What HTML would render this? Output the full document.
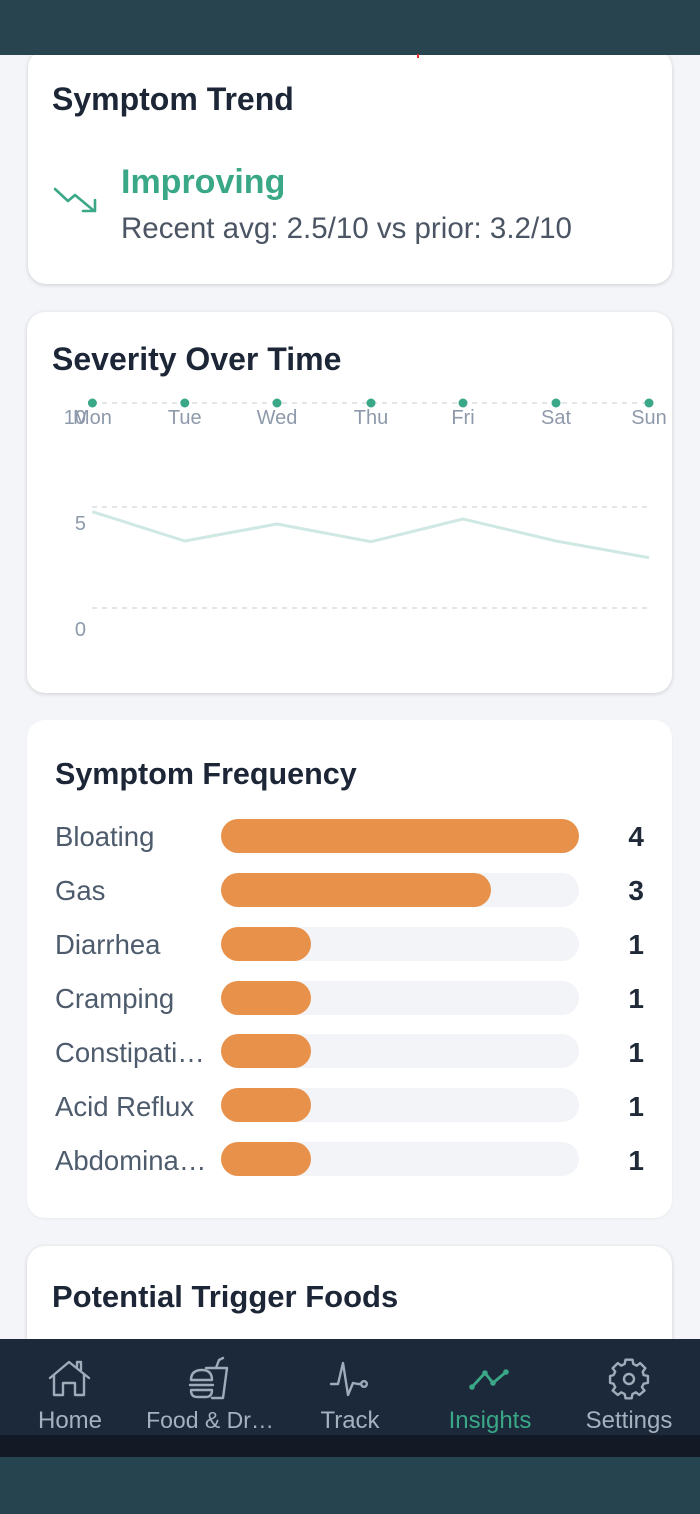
<!DOCTYPE html>
<html><head><meta charset="utf-8">
<style>
*{margin:0;padding:0;box-sizing:border-box}
html,body{width:700px;height:1514px;overflow:hidden;background:#f3f5f8;font-family:"Liberation Sans",Arial,sans-serif}
.abs{position:absolute;white-space:nowrap;line-height:1}
.card{position:absolute;background:#fff;border-radius:18px;box-shadow:0 1px 4px rgba(0,0,0,0.16)}
.title{color:#1c2636;font-weight:bold}
.lbl{font-size:27.5px;color:#4d5b6c}
.val{font-size:28px;color:#1f2937;font-weight:bold}
.track{position:absolute;left:221px;width:358px;height:34px;border-radius:17px;background:#f3f4f7}
.fill{position:absolute;left:0;top:0;height:34px;border-radius:17px;background:#e8914b}
.nl{position:absolute;top:1409px;font-size:24px;color:#a6b1bf;line-height:1;transform:translateX(-50%);white-space:nowrap}
</style></head><body>

<!-- top bar -->
<div style="position:absolute;left:0;top:0;width:700px;height:55px;background:#27444f;z-index:5"></div>
<div style="position:absolute;left:417px;top:54px;width:2px;height:4px;background:#e03030;z-index:6"></div>

<!-- Card 1 -->
<div class="card" style="left:28px;top:50px;width:644px;height:234px"></div>
<div class="abs title" style="left:52px;top:83px;font-size:32px">Symptom Trend</div>
<svg style="position:absolute;left:0;top:0" width="700" height="300">
  <polyline points="55,189 68,201 75,195 93,210" fill="none" stroke="#3aa886" stroke-width="2.6" stroke-linecap="round" stroke-linejoin="round"/>
  <polyline points="83,211 95,211 95,200" fill="none" stroke="#3aa886" stroke-width="2.6" stroke-linecap="round" stroke-linejoin="round"/>
</svg>
<div class="abs" style="left:121px;top:165px;font-size:34px;font-weight:bold;color:#3aa886">Improving</div>
<div class="abs" style="left:121px;top:214px;font-size:29.5px;color:#4b5563">Recent avg: 2.5/10 vs prior: 3.2/10</div>

<!-- Card 2 -->
<div class="card" style="left:27px;top:312px;width:645px;height:381px"></div>
<div class="abs title" style="left:52px;top:343px;font-size:32px">Severity Over Time</div>
<svg style="position:absolute;left:0;top:0" width="700" height="700" font-family="Liberation Sans, Arial, sans-serif">
  <g stroke="#d9dee4" stroke-width="1.5" stroke-dasharray="5 5">
    <line x1="92" y1="403" x2="649" y2="403"/>
    <line x1="92" y1="507" x2="649" y2="507"/>
    <line x1="92" y1="608" x2="649" y2="608"/>
  </g>
  <polyline points="92.4,511.7 184.8,541 277,524 371,541.7 463,519 556,541 649,557.7" fill="none" stroke="#cfe8e3" stroke-width="3" stroke-linejoin="round"/>
  <g fill="#8e9aab" font-size="20">
    <text x="86" y="424" text-anchor="end">10</text>
    <text x="86" y="530" text-anchor="end">5</text>
    <text x="86" y="636" text-anchor="end">0</text>
    <text x="92.4" y="424" text-anchor="middle">Mon</text>
    <text x="184.8" y="424" text-anchor="middle">Tue</text>
    <text x="277" y="424" text-anchor="middle">Wed</text>
    <text x="371" y="424" text-anchor="middle">Thu</text>
    <text x="463" y="424" text-anchor="middle">Fri</text>
    <text x="556" y="424" text-anchor="middle">Sat</text>
    <text x="649" y="424" text-anchor="middle">Sun</text>
  </g>
  <g fill="#3aa886">
    <circle cx="92.4" cy="403" r="4.5"/><circle cx="184.8" cy="403" r="4.5"/><circle cx="277" cy="403" r="4.5"/>
    <circle cx="371" cy="403" r="4.5"/><circle cx="463" cy="403" r="4.5"/><circle cx="556" cy="403" r="4.5"/>
    <circle cx="649" cy="403" r="4.5"/>
  </g>
</svg>

<!-- Card 3 -->
<div class="card" style="left:27px;top:720px;width:645px;height:498px;box-shadow:0 1px 2px rgba(0,0,0,0.05)"></div>
<div class="abs title" style="left:55px;top:759px;font-size:30.5px">Symptom Frequency</div>

<div class="abs lbl" style="left:55px;top:823px">Bloating</div>
<div class="track" style="top:819px"><div class="fill" style="width:358px"></div></div>
<div class="abs val" style="right:56px;top:823px">4</div>

<div class="abs lbl" style="left:55px;top:877px">Gas</div>
<div class="track" style="top:873px"><div class="fill" style="width:270px"></div></div>
<div class="abs val" style="right:56px;top:877px">3</div>

<div class="abs lbl" style="left:55px;top:931px">Diarrhea</div>
<div class="track" style="top:927px"><div class="fill" style="width:90px"></div></div>
<div class="abs val" style="right:56px;top:931px">1</div>

<div class="abs lbl" style="left:55px;top:985px">Cramping</div>
<div class="track" style="top:981px"><div class="fill" style="width:90px"></div></div>
<div class="abs val" style="right:56px;top:985px">1</div>

<div class="abs lbl" style="left:55px;top:1039px">Constipati…</div>
<div class="track" style="top:1034px"><div class="fill" style="width:90px"></div></div>
<div class="abs val" style="right:56px;top:1039px">1</div>

<div class="abs lbl" style="left:55px;top:1093px">Acid Reflux</div>
<div class="track" style="top:1088px"><div class="fill" style="width:90px"></div></div>
<div class="abs val" style="right:56px;top:1093px">1</div>

<div class="abs lbl" style="left:55px;top:1147px">Abdomina…</div>
<div class="track" style="top:1142px"><div class="fill" style="width:90px"></div></div>
<div class="abs val" style="right:56px;top:1147px">1</div>

<!-- Card 4 -->
<div class="card" style="left:27px;top:1246px;width:645px;height:200px"></div>
<div class="abs title" style="left:52px;top:1281px;font-size:31px">Potential Trigger Foods</div>

<!-- bottom nav -->
<div style="position:absolute;left:0;top:1339px;width:700px;height:96px;background:#1b293b;z-index:5"></div>
<div style="position:absolute;left:0;top:1435px;width:700px;height:22px;background:#131a25;z-index:5"></div>
<div style="position:absolute;left:0;top:1457px;width:700px;height:57px;background:#26444f;z-index:5"></div>
<svg style="position:absolute;left:0;top:1339px;z-index:6" width="700" height="96">
  <g transform="translate(0,-1339)" fill="none" stroke="#a0abba" stroke-width="2.4" stroke-linecap="round" stroke-linejoin="round">
    <!-- home -->
    <polyline points="50,1378 69,1362 89,1378"/>
    <polyline points="54,1375 54,1395 63,1395 63,1383 75,1383 75,1395 84,1395 84,1375"/>
    <polyline points="77,1367 77,1362 81,1362 81,1370"/>
    <!-- food -->
    <path d="M206,1368 L227,1368 L223,1398 L212,1398"/>
    <path d="M216,1368 L219,1360 L223,1358"/>
    <path d="M191,1380 Q191,1370 202,1370 Q212,1370 212,1380 Z"/>
    <path d="M190,1385 L213,1385"/>
    <path d="M191,1390 L212,1390 Q212,1397 206,1397 L197,1397 Q191,1397 191,1390 Z"/>
    <!-- track -->
    <polyline points="331,1384 338,1384 343,1363 348,1395 353,1383 358,1384 361,1384"/>
    <circle cx="364" cy="1384" r="2.8"/>
    <!-- settings gear -->
    <g transform="translate(629,1379) scale(0.86) translate(-629,-1384.5)">
      <path d="M625,1362 L633,1362 L634,1367 L638,1369 L642,1366 L648,1372 L645,1376 L646,1380 L651,1381 L651,1389 L646,1390 L644,1394 L647,1398 L641,1403 L637,1400 L633,1402 L632,1407 L625,1407 L624,1402 L620,1400 L616,1403 L610,1398 L613,1394 L611,1390 L607,1389 L607,1381 L611,1380 L613,1376 L610,1372 L616,1366 L620,1369 L624,1367 Z" stroke-width="2.8"/>
    </g>
    <circle cx="629" cy="1379" r="5"/>
  </g>
  <g transform="translate(0,-1339)" fill="#3aa886" stroke="#3aa886" stroke-width="2.8" stroke-linecap="round" stroke-linejoin="round">
    <polyline points="472,1387 485,1373 493,1383 506,1372" fill="none"/>
    <circle cx="472" cy="1387" r="2.8" stroke="none"/>
    <circle cx="485" cy="1373" r="2.8" stroke="none"/>
    <circle cx="493" cy="1383" r="2.8" stroke="none"/>
    <circle cx="506" cy="1372" r="2.8" stroke="none"/>
  </g>
</svg>
<div class="nl" style="left:70px;z-index:6">Home</div>
<div class="nl" style="left:210px;z-index:6;font-size:23px">Food &amp; Dr…</div>
<div class="nl" style="left:350px;z-index:6">Track</div>
<div class="nl" style="left:490px;z-index:6;color:#3aa886">Insights</div>
<div class="nl" style="left:629px;z-index:6">Settings</div>

</body></html>
